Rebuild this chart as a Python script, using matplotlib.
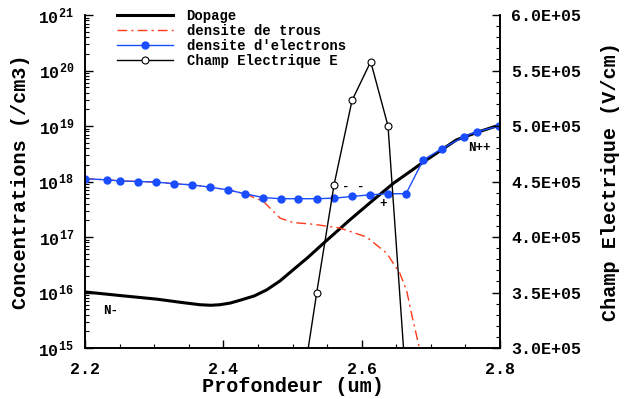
import math
import matplotlib
matplotlib.use("Agg")
import matplotlib.pyplot as plt
from matplotlib.ticker import MultipleLocator, LogLocator, NullFormatter, FuncFormatter

plt.rcParams['font.family'] = 'Liberation Mono'
plt.rcParams['font.weight'] = 'bold'
plt.rcParams['mathtext.fontset'] = 'custom'
plt.rcParams['mathtext.rm'] = 'Liberation Mono:bold'
plt.rcParams['mathtext.it'] = 'Liberation Mono:bold'
plt.rcParams['mathtext.bf'] = 'Liberation Mono:bold'

# Dopage (log10 cm-3)
dop_x = [2.200, 2.255, 2.304, 2.340, 2.366, 2.382, 2.395, 2.410, 2.424, 2.445,
         2.463, 2.482, 2.501, 2.522, 2.545, 2.583, 2.617, 2.646, 2.670, 2.689,
         2.737, 2.770, 2.800]
dop_y = [16.01, 15.94, 15.88, 15.82, 15.78, 15.77, 15.78, 15.81, 15.86, 15.94,
         16.05, 16.21, 16.41, 16.63, 16.89, 17.31, 17.67, 17.97, 18.18, 18.35,
         18.75, 18.90, 19.02]

# densite d'electrons
ele_x = [2.200, 2.232, 2.251, 2.277, 2.302, 2.329, 2.354, 2.380, 2.406, 2.431,
         2.458, 2.483, 2.508, 2.535, 2.560, 2.586, 2.612, 2.638, 2.664, 2.689,
         2.716, 2.748, 2.767, 2.799]
ele_y = [18.05, 18.03, 18.01, 18.00, 17.99, 17.96, 17.94, 17.90, 17.85, 17.78,
         17.71, 17.69, 17.69, 17.69, 17.70, 17.73, 17.76, 17.78, 17.78, 18.39,
         18.59, 18.81, 18.90, 19.00]

# densite de trous
tro_x = [2.200, 2.232, 2.251, 2.277, 2.302, 2.329, 2.354, 2.380, 2.406, 2.431,
         2.458, 2.482, 2.501, 2.530, 2.569, 2.607, 2.636, 2.655, 2.665, 2.672,
         2.683]
tro_y = [18.05, 18.03, 18.01, 18.00, 17.99, 17.96, 17.94, 17.90, 17.85, 17.78,
         17.64, 17.34, 17.26, 17.23, 17.16, 17.00, 16.71, 16.35, 16.03, 15.62,
         15.02]

# Champ electrique (V/cm)
e_x = [2.508, 2.535, 2.560, 2.586, 2.613, 2.638, 2.664]
e_y = [2.40e5, 3.50e5, 4.47e5, 5.23e5, 5.58e5, 5.00e5, 2.68e5]

fig = plt.figure(figsize=(6.33, 3.99), dpi=100)
ax = fig.add_axes([0.1343, 0.1278, 0.6557, 0.8346])
ax2 = ax.twinx()

l1, = ax.plot(dop_x, [10 ** v for v in dop_y], color='black', lw=2.2, label='Dopage')
l2, = ax.plot(tro_x, [10 ** v for v in tro_y], color='#ff3a1a', lw=1, ls=(0, (7, 3, 1.5, 3)),
              label='densite de trous')
l3, = ax.plot(ele_x, [10 ** v for v in ele_y], color='#1a4dff', lw=1, marker='o', ms=5,
              label="densite d'electrons")
l4, = ax2.plot(e_x, e_y, color='black', lw=1, marker='o', ms=5, mfc='white', mew=0.8,
               label='Champ Electrique E')

ax.set_yscale('log')
ax.set_xlim(2.2, 2.8)
ax.set_ylim(1e15, 1e21)
ax2.set_ylim(3e5, 6e5)

ax.xaxis.set_major_locator(MultipleLocator(0.2))
ax.xaxis.set_minor_locator(MultipleLocator(0.05))
ax.yaxis.set_major_locator(LogLocator(base=10, numticks=10))
ax.yaxis.set_minor_locator(LogLocator(base=10, subs=range(2, 10), numticks=10))
ax.yaxis.set_minor_formatter(NullFormatter())
ax.yaxis.set_major_formatter(FuncFormatter(lambda v, p: r'$10^{%d}$' % round(math.log10(v))))
ax.xaxis.set_major_formatter(FuncFormatter(lambda v, p: '%.1f' % v))

ax2.yaxis.set_major_locator(MultipleLocator(0.5e5))
ax2.yaxis.set_minor_locator(MultipleLocator(0.1e5))
ax2.yaxis.set_major_formatter(FuncFormatter(lambda v, p: '%.1fE+05' % (v / 1e5)))

ax.tick_params(which='both', direction='in', labelsize=12)
ax.tick_params(axis='x', which='major', pad=10)
ax.tick_params(axis='y', which='major', pad=8)
ax.tick_params(which='major', length=6, width=1)
ax.tick_params(which='minor', length=3, width=0.8)
ax2.tick_params(which='both', direction='in', labelsize=12)
ax2.tick_params(which='major', length=6, width=1, pad=8)
ax2.tick_params(which='minor', length=3, width=0.8)

for a in (ax, ax2):
    a.spines['top'].set_visible(False)
    for s in a.spines.values():
        s.set_linewidth(1.2)

ax.set_xlabel('Profondeur (um)', fontsize=14.5, fontweight='bold', labelpad=0)
ax.set_ylabel('Concentrations (/cm3)', fontsize=14.5, fontweight='bold', labelpad=6)
ax2.set_ylabel('Champ Electrique (V/cm)', fontsize=14.5, fontweight='bold', labelpad=14)

ax.text(2.226, 10 ** 15.67, 'N-', fontsize=9, fontweight='bold', va='center')
ax.text(2.754, 10 ** 18.6, 'N++', fontsize=9, fontweight='bold', va='center')
ax.text(2.572, 10 ** 17.9, '- -', fontsize=9, fontweight='bold', va='center')
ax.text(2.626, 10 ** 17.6, '+', fontsize=9, fontweight='bold', va='center')

ax2.legend(handles=[l1, l2, l3, l4], loc='upper left', bbox_to_anchor=(0.064, 1.035),
           frameon=False, fontsize=10, handlelength=4.0, handletextpad=1.0,
           labelspacing=0.08, numpoints=1, borderaxespad=0)

fig.savefig('out.png', dpi=100)
